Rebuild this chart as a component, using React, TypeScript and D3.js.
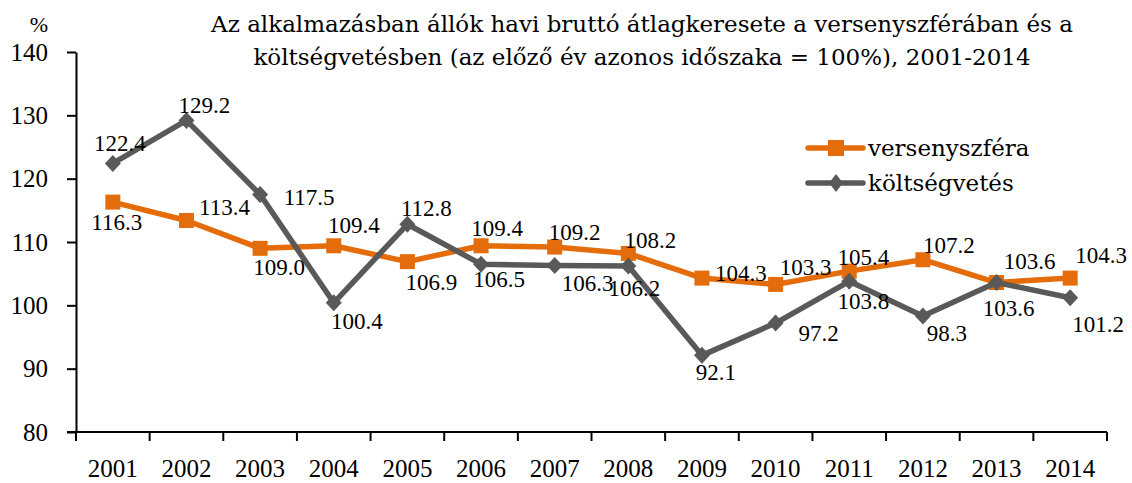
import React, { useEffect, useRef } from 'react';
import * as d3 from 'd3';

const years = ['2001', '2002', '2003', '2004', '2005', '2006', '2007', '2008', '2009', '2010', '2011', '2012', '2013', '2014'];
const versenyszfera = [116.3, 113.4, 109.0, 109.4, 106.9, 109.4, 109.2, 108.2, 104.3, 103.3, 105.4, 107.2, 103.6, 104.3];
const koltsegvetes = [122.4, 129.2, 117.5, 100.4, 112.8, 106.5, 106.3, 106.2, 92.1, 97.2, 103.8, 98.3, 103.6, 101.2];
const yTicks = [80, 90, 100, 110, 120, 130, 140];
const titleLines = [
  'Az alkalmazásban állók havi bruttó átlagkeresete a versenyszférában és a',
  'költségvetésben (az előző év azonos időszaka = 100%), 2001-2014',
];

// label offsets (centre of label relative to point), as Excel placed them
const versOffsets: [number, number][] = [
  [4, 20], [38, -13], [19, 19], [20, -21], [24, 20], [16, -18], [20, -15],
  [22, -13], [39, -5], [30, -17], [14, -14], [26, -15], [33, -22], [31, -23],
];
const koltOffsets: [number, number][] = [
  [7, -20], [18, -15], [49, 2], [23, 18], [19, -16], [18, 15], [33, 18],
  [6, 22], [14, 17], [43, 10], [14, 20], [24, 17], [12, 25], [28, 26],
];

const ORANGE = '#E46C0A';
const GRAY = '#595959';
const NUM_FONT = '"Liberation Serif", "Times New Roman", serif';
const TXT_FONT = '"DejaVu Serif", serif';

export default function App() {
  const svgRef = useRef<SVGSVGElement>(null);

  useEffect(() => {
    const width = 1132;
    const height = 483;
    const margin = { top: 52, right: 25, bottom: 51, left: 76 };

    const svg = d3.select(svgRef.current).attr('width', width).attr('height', height);
    svg.selectAll('*').remove();

    const x = d3
      .scaleBand()
      .domain(years)
      .range([margin.left, width - margin.right]);
    const y = d3
      .scaleLinear()
      .domain([80, 140])
      .range([height - margin.bottom, margin.top]);

    const cx = (d: string) => (x(d) as number) + x.bandwidth() / 2;

    // title
    svg
      .append('g')
      .selectAll('text')
      .data(titleLines)
      .enter()
      .append('text')
      .attr('x', 642)
      .attr('y', (d, i) => 32 + i * 33)
      .attr('text-anchor', 'middle')
      .style('font-family', TXT_FONT)
      .style('font-size', '23px')
      .attr('fill', '#000')
      .text((d) => d);

    svg
      .append('text')
      .attr('x', 39)
      .attr('y', 32)
      .attr('text-anchor', 'middle')
      .style('font-family', NUM_FONT)
      .style('font-size', '22px')
      .text('%');

    // y axis
    const yAxis = svg
      .append('g')
      .attr('transform', `translate(${margin.left},0)`)
      .call(d3.axisLeft(y).tickValues(yTicks).tickSize(9).tickSizeOuter(0).tickPadding(19));
    yAxis.select('.domain').attr('stroke', '#000').attr('stroke-width', 2);
    yAxis.selectAll('.tick line').attr('stroke', '#000').attr('stroke-width', 2);
    yAxis
      .selectAll('.tick text')
      .attr('fill', '#000')
      .style('font-family', NUM_FONT)
      .style('font-size', '25px');

    // x axis with ticks on band boundaries
    const xg = svg.append('g');
    const x0 = margin.left;
    const x1 = width - margin.right;
    const yb = y(80);
    xg.append('line')
      .attr('x1', x0 - 9)
      .attr('x2', x1)
      .attr('y1', yb)
      .attr('y2', yb)
      .attr('stroke', '#000')
      .attr('stroke-width', 2);
    const bounds = years.map((d) => x(d) as number).concat([x1]);
    xg.selectAll('line.tk')
      .data(bounds)
      .enter()
      .append('line')
      .attr('class', 'tk')
      .attr('x1', (d) => d)
      .attr('x2', (d) => d)
      .attr('y1', yb)
      .attr('y2', yb + 9)
      .attr('stroke', '#000')
      .attr('stroke-width', 2);
    xg.selectAll('text')
      .data(years)
      .enter()
      .append('text')
      .attr('x', cx)
      .attr('y', 477)
      .attr('text-anchor', 'middle')
      .style('font-family', NUM_FONT)
      .style('font-size', '25px')
      .text((d) => d);

    const line = d3
      .line<number>()
      .x((d, i) => cx(years[i]))
      .y((d) => y(d));

    const square = (px: number, py: number, s: number) =>
      `M${px - s / 2},${py - s / 2}h${s}v${s}h${-s}Z`;
    const diamond = (px: number, py: number, w: number, h: number) =>
      `M${px},${py - h / 2}L${px + w / 2},${py}L${px},${py + h / 2}L${px - w / 2},${py}Z`;

    const series = [
      { name: 'versenyszféra', values: versenyszfera, color: ORANGE, offsets: versOffsets, marker: 'square' },
      { name: 'költségvetés', values: koltsegvetes, color: GRAY, offsets: koltOffsets, marker: 'diamond' },
    ];

    series.forEach((s) => {
      const g = svg.append('g');
      g.append('path')
        .datum(s.values)
        .attr('d', line)
        .attr('fill', 'none')
        .attr('stroke', s.color)
        .attr('stroke-width', 5.5)
        .attr('stroke-linejoin', 'round');
      g.selectAll('path.mk')
        .data(s.values)
        .enter()
        .append('path')
        .attr('class', 'mk')
        .attr('d', (d, i) =>
          s.marker === 'square' ? square(cx(years[i]), y(d), 15) : diamond(cx(years[i]), y(d), 16, 17)
        )
        .attr('fill', s.color);
    });

    series.forEach((s) => {
      svg
        .append('g')
        .selectAll('text')
        .data(s.values)
        .enter()
        .append('text')
        .attr('x', (d, i) => cx(years[i]) + s.offsets[i][0])
        .attr('y', (d, i) => y(d) + s.offsets[i][1] + 8)
        .attr('text-anchor', 'middle')
        .style('font-family', NUM_FONT)
        .style('font-size', '23px')
        .attr('fill', '#000')
        .text((d) => d.toFixed(1));
    });

    // legend
    const legend = svg.append('g');
    series.forEach((s, i) => {
      const ly = 148 + i * 35;
      legend
        .append('line')
        .attr('x1', 808)
        .attr('x2', 863)
        .attr('y1', ly)
        .attr('y2', ly)
        .attr('stroke', s.color)
        .attr('stroke-width', 5.5)
        .attr('stroke-linecap', 'round');
      legend
        .append('path')
        .attr('d', s.marker === 'square' ? square(836, ly, 16) : diamond(836, ly, 14, 18))
        .attr('fill', s.color);
      legend
        .append('text')
        .attr('x', 868)
        .attr('y', ly + 8)
        .style('font-family', TXT_FONT)
        .style('font-size', '23px')
        .attr('fill', '#000')
        .text(s.name);
    });
  }, []);

  return (
    <div>
      <svg ref={svgRef} style={{ position: 'absolute', left: 0, top: 0, background: '#fff' }}></svg>
    </div>
  );
}
